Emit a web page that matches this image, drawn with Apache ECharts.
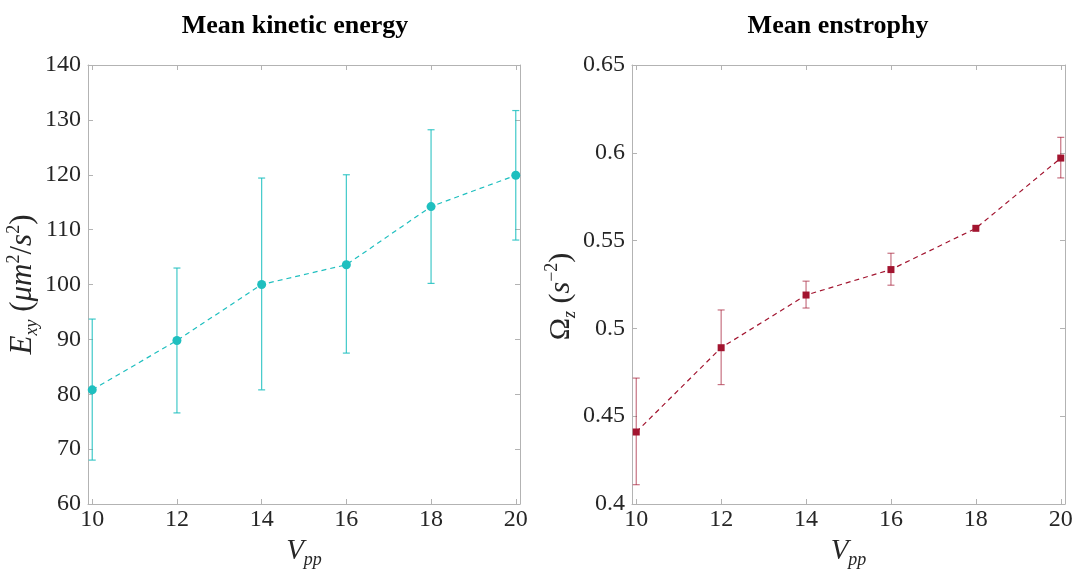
<!DOCTYPE html>
<html>
<head>
<meta charset="utf-8">
<script src="https://cdn.jsdelivr.net/npm/echarts@6/dist/echarts.min.js"></script>
<style>
html,body{margin:0;padding:0;background:#fff;}
#chart{width:1075px;height:571px;}
</style>
</head>
<body>
<div id="chart"></div>
<script>
// ---- data ----
const vpp = [10, 12, 14, 16, 18, 20];
const keMean = [80.8, 89.8, 100.0, 103.6, 114.2, 119.9];
const keLow  = [68.0, 76.6, 80.8, 87.5, 100.2, 108.1];
const keHigh = [93.7, 103.0, 119.4, 120.0, 128.2, 131.7];
const ensMean = [0.441, 0.489, 0.519, 0.5335, 0.557, 0.597];
const ensLow  = [0.411, 0.468, 0.5116, 0.5246, 0.557, 0.5857];
const ensHigh = [0.4717, 0.5105, 0.5269, 0.5428, 0.557, 0.6088];
const xTicks = [10, 12, 14, 16, 18, 20];
const titles = ['Mean kinetic energy', 'Mean enstrophy'];

const FONT = "'Liberation Serif', 'DejaVu Serif', serif";
const TXT = '#262626';
const AX = '#b3b3b3';
const CYAN = '#1fbfbf';
const CYAN_EB = 'rgba(31,191,191,0.85)';
const RED = '#a2142f';
const RED_EB = 'rgba(162,20,47,0.6)';

const chart = echarts.init(document.getElementById('chart'));

function richMath(size) {
  return {
    i:   {fontFamily: FONT, fontStyle: 'italic', fontSize: size, color: TXT, lineHeight: 36},
    n:   {fontFamily: FONT, fontSize: size, color: TXT, lineHeight: 36},
    sub: {fontFamily: FONT, fontStyle: 'italic', fontSize: 18, color: TXT, lineHeight: 16, verticalAlign: 'bottom'},
    sup: {fontFamily: FONT, fontSize: 18, color: TXT, lineHeight: 18, verticalAlign: 'top'}
  };
}

function errSeries(idx, lo, hi, color) {
  const data = vpp.map((v, i) => [v, lo[i], hi[i]]);
  return {
    type: 'custom', xAxisIndex: idx * 2, yAxisIndex: idx * 2, z: 3,
    data: data,
    renderItem: function (params, api) {
      const x = api.value(0), l = api.value(1), h = api.value(2);
      if (h - l <= 0) return null;
      const p1 = api.coord([x, h]), p2 = api.coord([x, l]);
      const c = 3.5;
      const st = {stroke: color, lineWidth: 1.2};
      return {type: 'group', children: [
        {type: 'line', shape: {x1: p1[0], y1: p1[1], x2: p2[0], y2: p2[1]}, style: st},
        {type: 'line', shape: {x1: p1[0]-c, y1: p1[1], x2: p1[0]+c, y2: p1[1]}, style: st},
        {type: 'line', shape: {x1: p2[0]-c, y1: p2[1], x2: p2[0]+c, y2: p2[1]}, style: st}
      ]};
    }
  };
}

function xAxes(gi) {
  const base = {
    type: 'value', gridIndex: gi, min: 9.9, max: 20.1,
    splitLine: {show: false},
    axisLine: {show: true, lineStyle: {color: AX, width: 1}},
    axisTick: {show: true, inside: true, length: 5, lineStyle: {color: AX}, customValues: xTicks}
  };
  return [
    Object.assign({}, base, {
      position: 'bottom',
      axisLabel: {show: true, customValues: xTicks, fontFamily: FONT, fontSize: 24, color: TXT, margin: 4},
      name: '{i|V}{sub|pp}', nameLocation: 'middle', nameGap: 21,
      nameTextStyle: {rich: richMath(29)}
    }),
    Object.assign({}, base, {position: 'top', axisLabel: {show: false}})
  ];
}

function yAxes(gi, min, max, interval, name, nameGap, size, pad) {
  const base = {
    type: 'value', gridIndex: gi, min: min, max: max, interval: interval,
    splitLine: {show: false},
    axisLine: {show: true, lineStyle: {color: AX, width: 1}},
    axisTick: {show: true, inside: true, length: 5, lineStyle: {color: AX}}
  };
  return [
    Object.assign({}, base, {
      position: 'left',
      axisLabel: {show: true, fontFamily: FONT, fontSize: 24, color: TXT, margin: 7},
      name: name, nameLocation: 'middle', nameGap: nameGap, nameRotate: 90,
      nameTextStyle: {rich: richMath(size), padding: pad}
    }),
    Object.assign({}, base, {position: 'right', axisLabel: {show: false}})
  ];
}

const option = {
  animation: false,
  backgroundColor: '#fff',
  title: [
    {text: titles[0], left: 290, top: 8, textAlign: 'center',
     textStyle: {fontFamily: FONT, fontWeight: 'bold', fontSize: 26, color: '#000'}},
    {text: titles[1], left: 833, top: 8, textAlign: 'center',
     textStyle: {fontFamily: FONT, fontWeight: 'bold', fontSize: 26, color: '#000'}}
  ],
  grid: [
    {left: 88, top: 65, width: 432, height: 439, outerBoundsMode: 'none'},
    {left: 632, top: 65, width: 433, height: 439, outerBoundsMode: 'none'}
  ],
  xAxis: [...xAxes(0), ...xAxes(1)],
  yAxis: [
    ...yAxes(0, 60, 140, 10, '{i|E}{sub|xy}{n| (}{i|μm}{sup|2}{n|/}{i|s}{sup|2}{n|)}', 42, 31, [0, 0, 0, 0]),
    ...yAxes(1, 0.4, 0.65, 0.05, '{n|Ω}{sub|z}{n| (}{i|s}{sup|−2}{n|)}', 52, 30, [0, 24, 0, 0])
  ],
  series: [
    errSeries(0, keLow, keHigh, CYAN_EB),
    {
      type: 'line', xAxisIndex: 0, yAxisIndex: 0, z: 4,
      data: vpp.map((v, i) => [v, keMean[i]]),
      symbol: 'circle', symbolSize: 9,
      itemStyle: {color: CYAN},
      lineStyle: {color: CYAN, width: 1.2, type: [5, 4]}
    },
    errSeries(1, ensLow, ensHigh, RED_EB),
    {
      type: 'line', xAxisIndex: 2, yAxisIndex: 2, z: 4,
      data: vpp.map((v, i) => [v, ensMean[i]]),
      symbol: 'rect', symbolSize: 7,
      itemStyle: {color: RED},
      lineStyle: {color: RED, width: 1.2, type: [5, 4]}
    }
  ]
};
chart.setOption(option);
</script>
</body>
</html>
